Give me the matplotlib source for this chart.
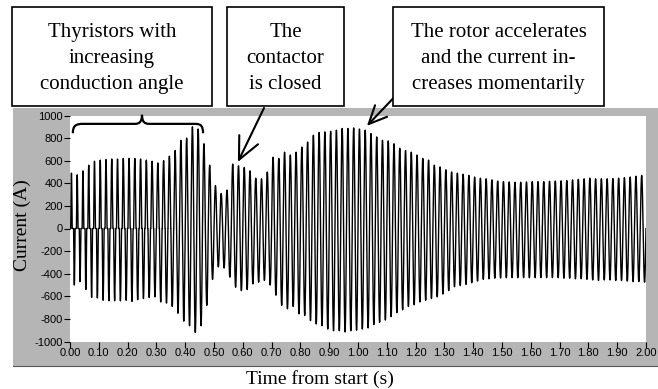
import numpy as np
import matplotlib
matplotlib.use('Agg')
import matplotlib.pyplot as plt
from matplotlib.patches import Rectangle, PathPatch
from matplotlib.path import Path

plt.rcParams['axes.unicode_minus'] = False

# peak current of each 50 Hz cycle (A), positive and negative half
pos_peak = [
    490, 475, 510, 560, 595, 605, 610, 615, 615, 620,
    620, 620, 615, 605, 595, 580, 600, 640, 690, 780,
    800, 900, 880, 750, 560, 380, 310, 340, 570, 555,
    540, 510, 445, 440, 500, 630, 620, 675, 650, 675,
    720, 765, 825, 850, 855, 860, 870, 885, 885, 890,
    880, 870, 840, 810, 780, 775, 750, 710, 690, 675,
    650, 620, 605, 560, 545, 520, 500, 490, 480, 470,
    455, 445, 440, 430, 420, 415, 412, 410, 410, 412,
    415, 415, 415, 418, 420, 422, 425, 430, 435, 440,
    445, 440, 440, 440, 442, 445, 450, 455, 462, 470,
]
neg_peak = [
    -500, -470, -540, -610, -615, -635, -640, -640, -640, -635,
    -645, -630, -620, -610, -605, -650, -660, -690, -750, -820,
    -860, -920, -860, -680, -450, -340, -350, -430, -520, -550,
    -540, -490, -475, -460, -500, -590, -680, -710, -690, -755,
    -770, -815, -845, -860, -890, -905, -905, -915, -905, -900,
    -890, -880, -850, -830, -810, -780, -745, -720, -690, -675,
    -650, -635, -620, -605, -580, -550, -515, -505, -495, -480,
    -465, -450, -445, -440, -438, -436, -435, -435, -435, -435,
    -435, -435, -435, -435, -435, -440, -440, -445, -445, -450,
    -455, -460, -455, -455, -460, -460, -465, -470, -470, -475,
]
# fraction of each half cycle the thyristors conduct (soft start)
conduction = [0.50, 0.52, 0.55, 0.58, 0.60, 0.63, 0.66, 0.68, 0.70, 0.72,
              0.75, 0.78, 0.80, 0.82, 0.85, 0.88, 0.90, 0.92, 0.94, 0.96,
              0.98, 1.00]

x_ticks = [round(0.1 * i, 2) for i in range(21)]
y_ticks = list(range(-1000, 1001, 200))

half = 0.01
n_pts = 40
t_all, i_all = [], []
for k in range(len(pos_peak)):
    c = conduction[k] if k < len(conduction) else 1.0
    for peak, t0 in ((pos_peak[k], 0.02 * k), (neg_peak[k], 0.02 * k + half)):
        tau = np.linspace(0, half, n_pts, endpoint=False)
        s = half * (1 - c) / 2
        w = np.clip((tau - s) / (c * half), 0, 1)
        t_all.append(t0 + tau)
        i_all.append(peak * np.sin(np.pi * w))
t_all = np.concatenate(t_all + [[0.02 * len(pos_peak)]])
i_all = np.concatenate(i_all + [[0.0]])

W, H = 658, 389
fig = plt.figure(figsize=(W / 100, H / 100), dpi=100)


def fx(x):
    return x / W


def fy(y):
    return 1 - y / H


# grey panel behind the graph
fig.add_artist(Rectangle((fx(13), fy(366)), fx(645), (366 - 108) / H,
                         transform=fig.transFigure, fc='#b5b5b5', ec='none',
                         zorder=0))
fig.add_artist(plt.Line2D([fx(13), 1], [fy(366), fy(366)],
                          transform=fig.transFigure, color='#555555', lw=0.8))

ax = fig.add_axes([fx(70), fy(341.5), 576 / W, 226 / H])
ax.set_facecolor('white')
ax.plot(t_all, i_all, color='black', lw=1.0)
ax.set_xlim(0, 2.0)
ax.set_ylim(-1000, 1000)
ax.set_xticks(x_ticks)
ax.set_xticklabels(['%.2f' % v for v in x_ticks])
ax.set_yticks(y_ticks)
ax.set_yticklabels(['%d' % v for v in y_ticks])
for sp in ax.spines.values():
    sp.set_visible(False)
ax.tick_params(direction='out', length=4, width=0.8, pad=1,
               labelsize=8, labelfontfamily='Liberation Sans')

serif = 'Liberation Serif'
fig.text(fx(320), fy(379), 'Time from start (s)', family=serif, fontsize=14,
         ha='center', va='center')
fig.text(fx(22), fy(225), 'Current (A)', family=serif, fontsize=14,
         rotation=90, ha='center', va='center')

# annotation boxes
boxes = [
    ((12, 7, 212, 106), 'Thyristors with\nincreasing\nconduction angle'),
    ((227, 7, 344, 106), 'The\ncontactor\nis closed'),
    ((393, 7, 604, 106), 'The rotor accelerates\nand the current in-\ncreases momentarily'),
]
for (x0, y0, x1, y1), txt in boxes:
    fig.add_artist(Rectangle((fx(x0), fy(y1)), (x1 - x0) / W, (y1 - y0) / H,
                             transform=fig.transFigure, fc='white',
                             ec='black', lw=1.2, zorder=3))
    fig.text(fx((x0 + x1) / 2), fy((y0 + y1) / 2 + 2), txt, family=serif,
             fontsize=15, ha='center', va='center', linespacing=1.5,
             zorder=4)

# brace over the soft-start interval
verts = [(0.010, 843), (0.010, 905), (0.018, 926), (0.045, 926),
         (0.225, 926),
         (0.243, 926), (0.250, 950), (0.250, 1006),
         (0.250, 950), (0.257, 926), (0.275, 926),
         (0.435, 926),
         (0.455, 926), (0.462, 905), (0.462, 843)]
codes = [Path.MOVETO, Path.CURVE4, Path.CURVE4, Path.CURVE4,
         Path.LINETO,
         Path.CURVE4, Path.CURVE4, Path.CURVE4,
         Path.CURVE4, Path.CURVE4, Path.CURVE4,
         Path.LINETO,
         Path.CURVE4, Path.CURVE4, Path.CURVE4]
ax.add_patch(PathPatch(Path(verts, codes), fc='none', ec='black', lw=1.6,
                       clip_on=False, zorder=5))

# arrows pointing at the waveform
ax.annotate('', xy=(0.583, 589), xycoords='data',
            xytext=(264, H - 108), textcoords='figure pixels',
            arrowprops=dict(arrowstyle='->,head_length=1.6,head_width=0.75',
                            lw=1.5, color='black', shrinkA=0, shrinkB=0),
            annotation_clip=False, zorder=6)
ax.annotate('', xy=(1.031, 908), xycoords='data',
            xytext=(403, H - 88), textcoords='figure pixels',
            arrowprops=dict(arrowstyle='->,head_length=1.3,head_width=0.6',
                            lw=1.5, color='black', shrinkA=0, shrinkB=0),
            annotation_clip=False, zorder=6)

fig.savefig('out.png', dpi=100, facecolor='white')
